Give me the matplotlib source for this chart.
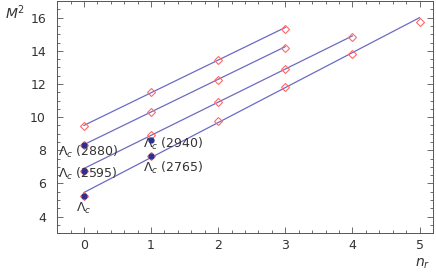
import numpy as np
import matplotlib.pyplot as plt
from matplotlib.ticker import MultipleLocator

# radial quantum number for each trajectory
nr_1 = [0, 1, 2, 3]
nr_2 = [0, 1, 2, 3]
nr_3 = [0, 1, 2, 3, 4]
nr_4 = [0, 1, 2, 3, 4, 5]

# predicted masses squared (open diamonds)
m2_1 = [9.45, 11.50, 13.42, 15.34]
m2_2 = [8.33, 10.31, 12.23, 14.18]
m2_3 = [6.77, 8.91, 10.91, 12.88, 14.82]
m2_4 = [5.21, 7.63, 9.79, 11.80, 13.80, 15.76]

# straight line fits: intercept, slope, last n_r
fit_b = [9.50, 8.34, 6.90, 5.45]
fit_k = [1.97, 1.97, 2.00, 2.11]
fit_end = [3, 3, 4, 5]

# experimental states (filled points)
exp_nr = [0, 0, 0, 1, 1]
exp_m2 = [5.227, 6.718, 8.306, 7.651, 8.644]

# labels of the experimental states
lab_text = [r'$\Lambda_c$', r'$\Lambda_c$ (2595)', r'$\Lambda_c$ (2880)',
            r'$\Lambda_c$ (2765)', r'$\Lambda_c$ (2940)']
lab_x = [0.0, -0.38, -0.38, 0.88, 0.88]
lab_y = [4.47, 6.55, 7.90, 6.93, 8.37]
lab_ha = ['center', 'left', 'left', 'left', 'left']

line_col = '#6b6bc4'
diam_col = '#ff6b6b'
dot_col = '#2e2e8f'
text_col = '#333333'

fig = plt.figure(figsize=(4.36, 2.72), dpi=100)
ax = fig.add_axes([0.131, 0.143, 0.862, 0.853])

for b, k, n_end in zip(fit_b, fit_k, fit_end):
    xs = np.array([0, n_end])
    ax.plot(xs, b + k * xs, color=line_col, lw=0.9, zorder=2)

for xs, ys in [(nr_1, m2_1), (nr_2, m2_2), (nr_3, m2_3), (nr_4, m2_4)]:
    ax.plot(xs, ys, linestyle='none', marker='D', ms=4.5, mfc='none',
            mec=diam_col, mew=0.8, zorder=3)

ax.plot(exp_nr, exp_m2, linestyle='none', marker='o', ms=3.5,
        color=dot_col, zorder=4)

for t, x, y, ha in zip(lab_text, lab_x, lab_y, lab_ha):
    ax.text(x, y, t, ha=ha, va='center', fontsize=9, color=text_col)

ax.set_xlim(-0.4, 5.2)
ax.set_ylim(3, 17)
ax.xaxis.set_major_locator(MultipleLocator(1))
ax.xaxis.set_minor_locator(MultipleLocator(0.2))
ax.yaxis.set_major_locator(MultipleLocator(2))
ax.yaxis.set_minor_locator(MultipleLocator(0.5))
ax.tick_params(which='both', direction='in', top=True, right=True,
               colors='#555555', labelcolor=text_col, labelsize=9, width=0.6)
ax.tick_params(which='major', length=4)
ax.tick_params(axis='x', which='major', pad=4)
ax.tick_params(axis='y', which='major', pad=8)
ax.tick_params(which='minor', length=2)
for s in ax.spines.values():
    s.set_color('#555555')
    s.set_linewidth(0.7)

fig.text(0.012, 0.955, r'$M^2$', fontsize=10, color=text_col, va='center')
fig.text(0.988, 0.004, r'$n_r$', fontsize=10, color=text_col, ha='right', va='bottom')

fig.savefig('out.png', dpi=100)
